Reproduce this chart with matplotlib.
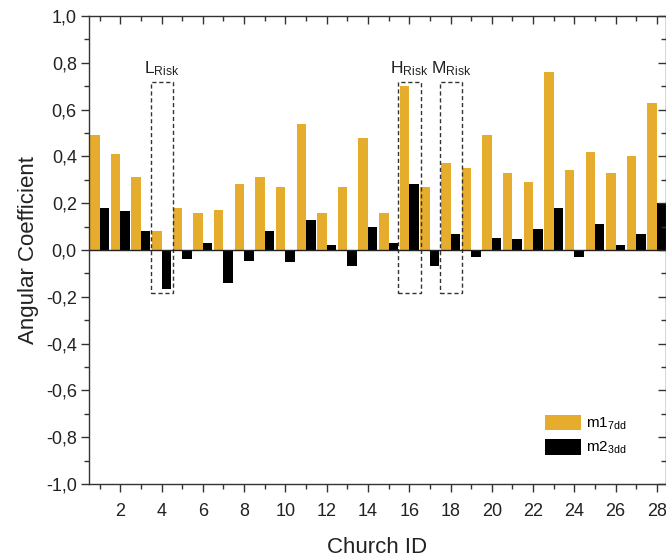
import numpy as np
import matplotlib
matplotlib.use("Agg")
import matplotlib.pyplot as plt
from matplotlib.patches import Rectangle, Patch
from matplotlib.ticker import MultipleLocator, FuncFormatter

plt.rcParams['font.family'] = ['Liberation Sans', 'DejaVu Sans']
plt.rcParams['mathtext.default'] = 'regular'

# ---- data ----
church_id = np.arange(1, 29)
m1_7dd = [0.49, 0.41, 0.31, 0.08, 0.18, 0.16, 0.17, 0.28, 0.31, 0.27,
          0.54, 0.16, 0.27, 0.48, 0.16, 0.70, 0.27, 0.37, 0.35, 0.49,
          0.33, 0.29, 0.76, 0.34, 0.42, 0.33, 0.40, 0.63]
m2_3dd = [0.18, 0.165, 0.08, -0.165, -0.04, 0.03, -0.14, -0.045, 0.08, -0.05,
          0.13, 0.02, -0.07, 0.10, 0.03, 0.28, -0.07, 0.07, -0.03, 0.05,
          0.045, 0.09, 0.18, -0.03, 0.11, 0.02, 0.07, 0.20]
risk_ids = [4, 16, 18]
risk_names = ['L$_{Risk}$', 'H$_{Risk}$', 'M$_{Risk}$']

yellow = '#E6AC2E'
txt = '#222222'
w = 0.46

fig = plt.figure(figsize=(6.66, 5.58), dpi=100)
ax = fig.add_axes([89.3 / 666, 74 / 558, 576.5 / 666, 468 / 558])

ax.bar(church_id - w / 2, m1_7dd, width=w, color=yellow, linewidth=0)
ax.bar(church_id + w / 2, m2_3dd, width=w, color='black', linewidth=0)
ax.axhline(0, color='#222222', lw=1.0)

# dashed boxes around the risk churches
for cid, name in zip(risk_ids, risk_names):
    ax.add_patch(Rectangle((cid - 0.53, -0.182), 1.09, 0.902, fill=False,
                           ls=(0, (3, 2)), lw=1.0, edgecolor='#333333'))
    ax.text(cid + 0.02, 0.735, name, ha='center', va='bottom',
            fontsize=12.5, color=txt)

ax.set_xlim(0.5, 28.43)
ax.set_ylim(-1.0, 1.0)
ax.xaxis.set_major_locator(MultipleLocator(2))
ax.xaxis.set_minor_locator(MultipleLocator(1))
ax.yaxis.set_major_locator(MultipleLocator(0.2))
ax.yaxis.set_minor_locator(MultipleLocator(0.1))
ax.yaxis.set_major_formatter(FuncFormatter(lambda v, p: f"{v:.1f}".replace('.', ',').replace('-0,0', '0,0')))

ax.tick_params(which='both', labelsize=13, labelcolor=txt, color='#333333', width=1.0)
ax.tick_params(which='major', length=6)
ax.tick_params(which='minor', length=3.5)
ax.tick_params(axis='x', which='both', top=True, direction='out', pad=8)
ax.tick_params(axis='y', which='both', right=True, direction='out', pad=3)
# inward ticks on the top and right spines
for t in ax.xaxis.get_major_ticks() + ax.xaxis.get_minor_ticks():
    t.tick2line.set_marker(3)
for t in ax.yaxis.get_major_ticks() + ax.yaxis.get_minor_ticks():
    t.tick2line.set_marker(0)
for s in ax.spines.values():
    s.set_linewidth(1.0)
    s.set_color('#333333')

ax.set_xlabel('Church ID', fontsize=16, color=txt, labelpad=12)
ax.set_ylabel('Angular Coefficient', fontsize=16, color=txt, labelpad=5)

handles = [Patch(facecolor=yellow, label='m1$_{7dd}$'),
           Patch(facecolor='black', label='m2$_{3dd}$')]
ax.legend(handles=handles, loc='upper left', bbox_to_anchor=(0.79, 0.148),
          frameon=False, fontsize=11, handlelength=2.4, handleheight=1.2,
          handletextpad=0.3, labelspacing=0.45, borderpad=0, borderaxespad=0)

fig.savefig('out.png', dpi=100)
